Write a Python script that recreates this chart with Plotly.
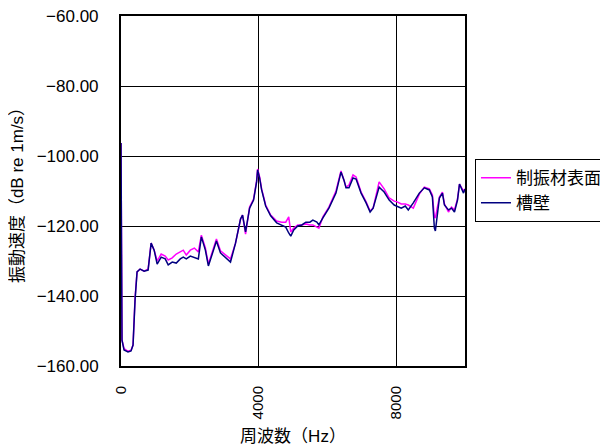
import plotly.graph_objects as go

freq = [0, 29, 88, 204, 292, 350, 409, 467, 555, 672, 788, 876, 964, 1051, 1168, 1285,
        1372, 1489, 1606, 1723, 1810, 1898, 2015, 2132, 2248, 2336, 2453, 2540, 2657,
        2774, 2891, 3037, 3183, 3329, 3475, 3533, 3621, 3738, 3854, 3942, 3971, 4030,
        4088, 4205, 4351, 4526, 4672, 4789, 4876, 4935, 5022, 5139, 5256, 5373, 5490,
        5577, 5694, 5752, 5869, 6044, 6249, 6395, 6482, 6541, 6628, 6745, 6833, 6979,
        7125, 7242, 7329, 7417, 7504, 7650, 7796, 7942, 8030, 8147, 8263, 8351, 8497,
        8672, 8818, 8964, 9052, 9110, 9139, 9198, 9256, 9344, 9402, 9519, 9607, 9694,
        9782, 9840, 9957, 10000]

wall = [-96.3, -152.6, -155.4, -156.0, -155.7, -154.0, -141.1, -133.1, -132.3, -132.9,
        -132.6, -124.9, -126.9, -130.9, -128.9, -129.4, -131.1, -130.3, -130.6, -129.4,
        -128.9, -129.4, -128.6, -128.9, -129.4, -123.1, -126.9, -131.4, -128.0, -124.3,
        -127.7, -129.1, -130.3, -124.9, -118.0, -116.9, -121.7, -114.9, -112.6, -107.4,
        -104.0, -106.3, -109.7, -114.3, -117.1, -119.1, -119.7, -120.3, -122.0, -122.9,
        -121.1, -120.0, -119.7, -118.9, -118.9, -118.3, -118.9, -119.7, -117.7, -114.9,
        -110.6, -104.6, -106.9, -109.1, -109.1, -106.3, -106.6, -110.6, -113.4, -116.0,
        -114.9, -111.7, -108.9, -110.3, -112.6, -114.0, -114.3, -114.9, -114.3, -115.4,
        -113.4, -110.6, -109.1, -109.7, -111.7, -120.6, -121.4, -116.0, -112.0, -110.6,
        -114.0, -115.4, -114.9, -116.0, -112.6, -108.0, -110.6, -109.4]

damping = [-96.3, -152.6, -155.0, -155.8, -155.5, -154.0, -140.5, -133.1, -132.3, -132.9,
           -132.3, -124.9, -126.9, -130.0, -128.0, -128.6, -129.7, -129.1, -128.0, -127.4,
           -126.9, -128.3, -126.9, -126.3, -127.4, -122.6, -126.3, -130.9, -127.4, -123.7,
           -127.1, -128.3, -129.4, -124.9, -118.0, -116.9, -122.3, -114.6, -112.3, -107.1,
           -103.7, -106.0, -109.4, -114.0, -116.9, -118.6, -118.9, -118.9, -117.4, -121.7,
           -120.6, -119.7, -119.7, -119.4, -119.7, -119.7, -120.3, -120.6, -117.4, -114.6,
           -110.0, -104.3, -106.9, -108.9, -108.3, -105.4, -106.0, -110.3, -113.1, -115.7,
           -114.9, -111.1, -107.4, -109.4, -112.0, -112.9, -113.1, -113.7, -113.7, -114.0,
           -114.9, -110.9, -108.9, -109.4, -111.1, -117.4, -117.7, -114.6, -111.7, -110.3,
           -113.7, -116.0, -114.6, -115.4, -112.3, -108.0, -110.0, -109.4]

series_names = ["制振材表面", "槽壁"]
x_ticks = [0, 4000, 8000]
y_ticks = [-160, -140, -120, -100, -80, -60]

FONT = "Liberation Sans, Arial, Noto Sans CJK JP"

fig = go.Figure()
fig.add_trace(go.Scatter(x=freq, y=damping, mode="lines", name=series_names[0],
                         line=dict(color="#FF00FF", width=1.5)))
fig.add_trace(go.Scatter(x=freq, y=wall, mode="lines", name=series_names[1],
                         line=dict(color="#000080", width=1.5)))

fig.update_layout(
    width=600, height=438,
    margin=dict(l=113, r=143, t=8, b=80, autoexpand=False),
    paper_bgcolor="white", plot_bgcolor="white",
    font=dict(family=FONT, size=15, color="black"),
    showlegend=True,
    legend=dict(x=1.029, y=0.591, xanchor="left", yanchor="top",
                bordercolor="black", borderwidth=1, bgcolor="white",
                font=dict(family=FONT, size=17),
                itemwidth=30, tracegroupgap=0),
    xaxis=dict(range=[0, 10000], tickvals=x_ticks, tickangle=-90,
               showgrid=True, gridcolor="black", gridwidth=1,
               showline=True, linecolor="black", linewidth=2, mirror=True,
               zeroline=False, ticks="", ticklabelstandoff=12,
               tickfont=dict(size=15), ticklabeloverflow="allow",
               title=dict(text="周波数（Hz）", font=dict(family=FONT, size=17),
                          standoff=16)),
    yaxis=dict(range=[-160, -60], tickvals=y_ticks, tickformat=".2f",
               showgrid=True, gridcolor="black", gridwidth=1,
               showline=True, linecolor="black", linewidth=2, mirror=True,
               zeroline=False, ticks="", ticklabelstandoff=17,
               tickfont=dict(size=17), ticklabeloverflow="allow",
               title=dict(text="振動速度（dB re 1m/s）", font=dict(family=FONT, size=17),
                          standoff=12)),
)

fig.write_html("out.html")
